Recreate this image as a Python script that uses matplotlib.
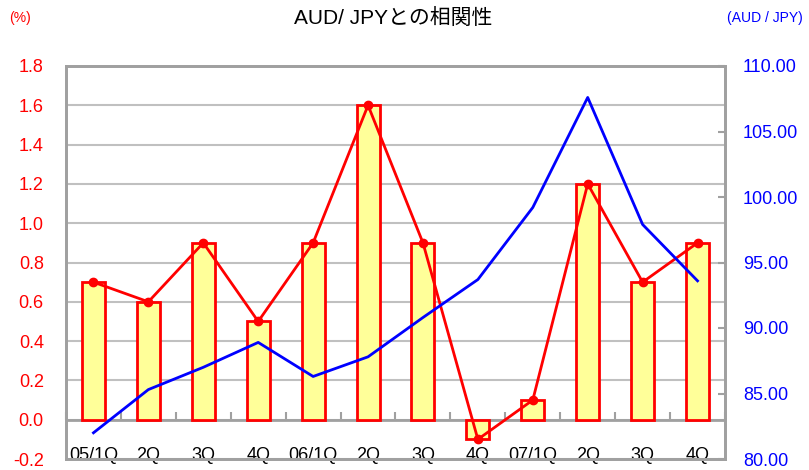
import numpy as np
import matplotlib
matplotlib.use('Agg')
import matplotlib.pyplot as plt

plt.rcParams['font.family'] = ['Liberation Sans', 'Noto Sans CJK JP']

quarters = ['05/1Q', '2Q', '3Q', '4Q', '06/1Q', '2Q', '3Q', '4Q', '07/1Q', '2Q', '3Q', '4Q']
growth = [0.7, 0.6, 0.9, 0.5, 0.9, 1.6, 0.9, -0.1, 0.1, 1.2, 0.7, 0.9]
audjpy = [82.0, 85.3, 87.0, 88.9, 86.3, 87.8, 90.8, 93.7, 99.2, 107.6, 97.9, 93.6]

frame_gray = '#A0A0A0'
grid_gray = '#C0C0C0'

fig = plt.figure(figsize=(8.09, 4.70), dpi=100)
ax = fig.add_axes([66/809, 11/470, (725-66)/809, (459-66)/470])

x = np.arange(len(quarters))
ax.bar(x, growth, width=0.42, color='#FFFF99', edgecolor='red', linewidth=2, zorder=3)
ax.plot(x, growth, color='red', linewidth=2, marker='o', markersize=6, zorder=4)

ax.set_xlim(-0.5, len(quarters) - 0.5)
ax.set_ylim(-0.2, 1.8)
ax.set_yticks(np.arange(-0.2, 1.81, 0.2))
ax.set_yticklabels([f'{v:.1f}' for v in np.arange(-0.2, 1.81, 0.2)])
ax.yaxis.grid(True, color=grid_gray, linewidth=1.5, zorder=0)
ax.set_axisbelow(True)
ax.tick_params(axis='y', length=0, pad=16, labelsize=13, labelcolor='red')

ax.set_xticks(x)
ax.set_xticklabels(quarters)
ax.tick_params(axis='x', length=0, pad=-9, labelsize=13)

for s in ax.spines.values():
    s.set_color(frame_gray)
    s.set_linewidth(2)

# category axis at zero with tick marks between quarters
ax.axhline(0, color=frame_gray, linewidth=2, zorder=2)
zero_axis = ax.secondary_xaxis(0.1)
zero_axis.set_xticks(np.arange(len(quarters) + 1) - 0.5)
zero_axis.set_xticklabels([])
zero_axis.tick_params(direction='in', length=6, width=1.5, color=frame_gray)
zero_axis.spines['bottom'].set_visible(False)

ax2 = ax.twinx()
ax2.plot(x, audjpy, color='blue', linewidth=2, zorder=5)
ax2.set_ylim(80, 110)
ax2.set_yticks(np.arange(80, 111, 5))
ax2.set_yticklabels([f'{v:.2f}' for v in np.arange(80, 111, 5)])
ax2.tick_params(axis='y', direction='in', length=5, width=1.5, color=frame_gray,
                pad=13, labelsize=13, labelcolor='blue')
for s in ax2.spines.values():
    s.set_color(frame_gray)
    s.set_linewidth(2)

fig.text(393/809, 1 - 18/470, 'AUD/ JPYとの相関性', ha='center', va='center', fontsize=15)
fig.text(20/809, 1 - 18/470, '(%)', ha='center', va='center', fontsize=10, color='red')
fig.text(765/809, 1 - 18/470, '(AUD / JPY)', ha='center', va='center', fontsize=10, color='blue')

fig.savefig('out.png', dpi=100)
